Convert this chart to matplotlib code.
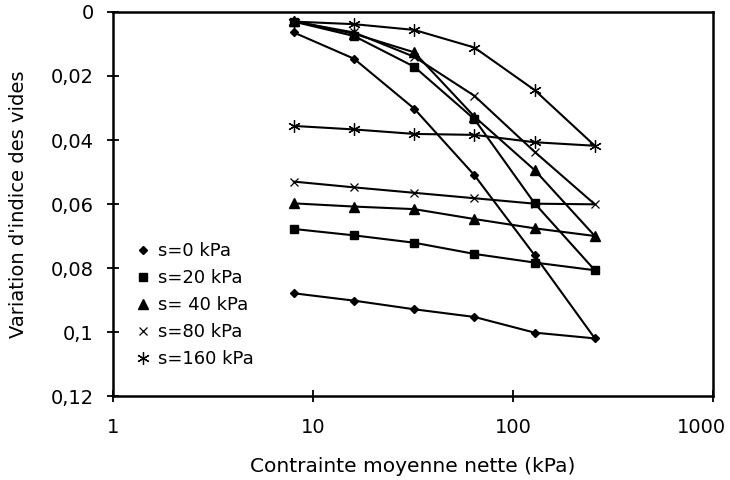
import matplotlib
matplotlib.use('Agg')
import matplotlib.pyplot as plt
from matplotlib.lines import Line2D
from matplotlib.ticker import FuncFormatter
import matplotlib.transforms as mtrans

# loading 8 -> 256 kPa then unloading back to 8 kPa
pressure = [8, 16, 32, 64, 128, 256, 128, 64, 32, 16, 8]

s0 = [0.0064, 0.0146, 0.0302, 0.0510, 0.0760, 0.1020, 0.1002, 0.0953, 0.0929, 0.0902, 0.0879]
s20 = [0.0030, 0.0075, 0.0171, 0.0335, 0.0598, 0.0807, 0.0783, 0.0756, 0.0721, 0.0698, 0.0678]
s40 = [0.0028, 0.0068, 0.0126, 0.0327, 0.0494, 0.0700, 0.0676, 0.0647, 0.0616, 0.0608, 0.0598]
s80 = [0.0030, 0.0064, 0.0140, 0.0262, 0.0437, 0.0601, 0.0599, 0.0582, 0.0565, 0.0548, 0.0530]
s160 = [0.0030, 0.0038, 0.0056, 0.0111, 0.0244, 0.0418, 0.0407, 0.0384, 0.0381, 0.0367, 0.0356]

labels = ['s=0 kPa', 's=20 kPa', 's= 40 kPa', 's=80 kPa', 's=160 kPa']

fig = plt.figure(figsize=(7.3, 4.8), dpi=100)
ax = fig.add_axes([0.155, 0.175, 0.822, 0.80])

# marker style for each suction level
styles = [
    dict(marker='D', markersize=4),
    dict(marker='s', markersize=6),
    dict(marker='^', markersize=7.5),
    dict(marker='x', markersize=6, markeredgewidth=0.9),
    dict(marker=(6, 2, 0), markersize=9, markeredgewidth=0.9),
]

series = [s0, s20, s40, s80, s160]
handles = []
for vals, st, lab in zip(series, styles, labels):
    ax.plot(pressure, vals, color='black', linewidth=1.5, **st)
    handles.append(Line2D([], [], color='black', linestyle='None', label=lab, **st))

ax.set_xscale('log')
ax.set_xlim(1, 1000)
ax.set_ylim(0.12, 0)
ax.set_xticks([1, 10, 100, 1000])
ax.set_xticklabels(['1', '10', '100', '1000'])
ax.minorticks_off()
ax.set_yticks([0, 0.02, 0.04, 0.06, 0.08, 0.1, 0.12])
ax.yaxis.set_major_formatter(FuncFormatter(lambda v, p: ('%g' % round(v, 3)).replace('.', ',')))

ax.tick_params(direction='inout', length=8, width=1.3, labelsize=14, colors='black')
ax.tick_params(axis='x', pad=12)
ax.tick_params(axis='y', pad=10)
for sp in ax.spines.values():
    sp.set_linewidth(1.8)

# keep the last x label inside the picture
lastlab = ax.get_xticklabels()[-1]
lastlab.set_transform(lastlab.get_transform() + mtrans.ScaledTranslation(-12 / 100, 0, fig.dpi_scale_trans))

ax.set_xlabel('Contrainte moyenne nette (kPa)', fontsize=14.5, labelpad=14)
ax.set_ylabel("Variation d'indice des vides", fontsize=14, labelpad=16)

ax.legend(handles=handles, loc='center left', bbox_to_anchor=(0.012, 0.237), frameon=False,
          fontsize=13, handlelength=0.7, handletextpad=0.5, labelspacing=0.5)

fig.savefig('out.png', dpi=100)
